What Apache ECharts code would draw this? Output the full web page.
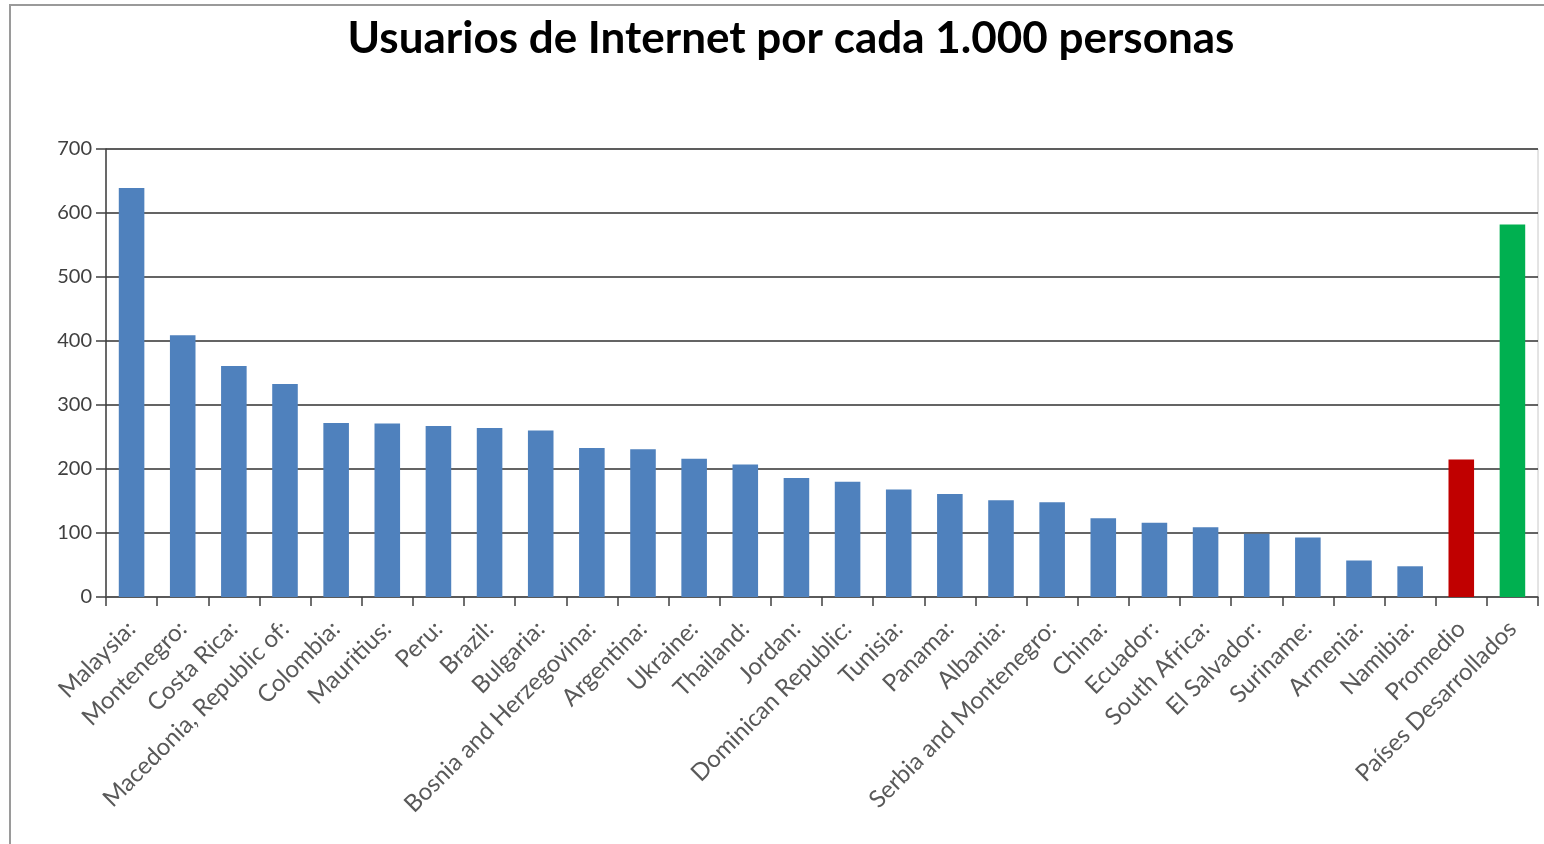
<!DOCTYPE html>
<html>
<head>
<meta charset="utf-8">
<script src="https://cdn.jsdelivr.net/npm/echarts@6/dist/echarts.min.js"></script>
<style>
html,body{margin:0;padding:0;background:#fff;}
#c{width:1544px;height:844px;}
</style>
</head>
<body>
<div id="c"></div>
<script>
const categories = ["Malaysia:","Montenegro:","Costa Rica:","Macedonia, Republic of:","Colombia:","Mauritius:","Peru:","Brazil:","Bulgaria:","Bosnia and Herzegovina:","Argentina:","Ukraine:","Thailand:","Jordan:","Dominican Republic:","Tunisia:","Panama:","Albania:","Serbia and Montenegro:","China:","Ecuador:","South Africa:","El Salvador:","Suriname:","Armenia:","Namibia:","Promedio","Países Desarrollados"];
const values = [639,409,361,333,272,271,267,264,260,233,231,216,207,186,180,168,161,151,148,123,116,109,99,93,57,48,215,582];
const barColors = ["#4F81BD","#4F81BD","#4F81BD","#4F81BD","#4F81BD","#4F81BD","#4F81BD","#4F81BD","#4F81BD","#4F81BD","#4F81BD","#4F81BD","#4F81BD","#4F81BD","#4F81BD","#4F81BD","#4F81BD","#4F81BD","#4F81BD","#4F81BD","#4F81BD","#4F81BD","#4F81BD","#4F81BD","#4F81BD","#4F81BD","#C00000","#00B050"];
const yTicks = [0,100,200,300,400,500,600,700];
const titleText = "Usuarios de Internet por cada 1.000 personas";

const chart = echarts.init(document.getElementById('c'), null, {renderer:'canvas'});
chart.setOption({
  animation:false,
  backgroundColor:'#fff',
  title:{
    text:titleText,
    left:786, top:12, textAlign:'center',
    textStyle:{fontFamily:'Lato', fontWeight:'bold', fontSize:44, color:'#000'}
  },
  graphic:[{
    type:'rect', shape:{x:10,y:5,width:1600,height:900},
    style:{fill:'none', stroke:'#9a9a9a', lineWidth:2}, silent:true, z:-1
  }],
  grid:{left:106, right:6, top:149, bottom:247, show:true, borderColor:'#c8c8c8', borderWidth:1, backgroundColor:'transparent'},
  xAxis:{
    type:'category', data:categories,
    axisLine:{lineStyle:{color:'#595959', width:1.5}},
    axisTick:{show:true, length:9, lineStyle:{color:'#404040', width:1.5}},
    axisLabel:{rotate:45, interval:0, color:'#595959', fontFamily:'Lato', fontSize:24, margin:28}
  },
  yAxis:{
    type:'value', min:yTicks[0], max:yTicks[yTicks.length-1], interval:100,
    axisLine:{show:true, lineStyle:{color:'#404040', width:1.5}},
    axisTick:{show:true, length:10, lineStyle:{color:'#404040', width:1.5}},
    axisLabel:{color:'#404040', fontFamily:'Lato', fontSize:20, margin:14},
    splitLine:{lineStyle:{color:'#303030', width:1.6}}
  },
  series:[{
    type:'bar', barWidth:'50%',
    data: values.map((v,i)=>({value:v, itemStyle:{color:barColors[i]}}))
  }]
});
</script>
</body>
</html>
